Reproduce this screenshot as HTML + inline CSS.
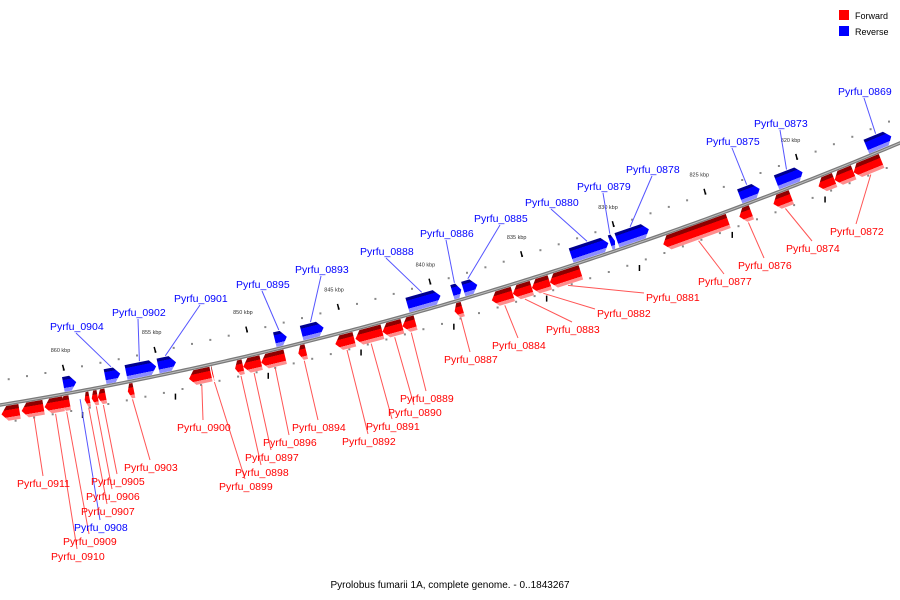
<!DOCTYPE html>
<html><head><meta charset="utf-8">
<style>
html,body{margin:0;padding:0;background:#fff;}
svg{display:block;font-family:"Liberation Sans","DejaVu Sans",sans-serif;}
</style></head>
<body>
<svg id="chart" width="900" height="600" viewBox="0 0 900 600">
  <defs>
    <linearGradient id="gRed" x1="0" y1="0" x2="0" y2="1">
      <stop offset="0" stop-color="#8e0000"/><stop offset="0.27" stop-color="#8e0000"/>
      <stop offset="0.28" stop-color="#ff0000"/><stop offset="0.76" stop-color="#ff0000"/>
      <stop offset="0.77" stop-color="#ff8c8c"/><stop offset="1" stop-color="#ff8c8c"/>
    </linearGradient>
    <linearGradient id="gBlue" x1="0" y1="0" x2="0" y2="1">
      <stop offset="0" stop-color="#00008e"/><stop offset="0.2" stop-color="#00008e"/>
      <stop offset="0.21" stop-color="#0000ff"/><stop offset="0.74" stop-color="#0000ff"/>
      <stop offset="0.75" stop-color="#8c8cff"/><stop offset="1" stop-color="#8c8cff"/>
    </linearGradient>
  </defs>
  <g id="ticks"></g>
  <path id="axis" fill="none" stroke="#7a7a7a" stroke-width="3.5"/>
  <path id="axis2" fill="none" stroke="#bdbdbd" stroke-width="1"/>
  <g id="leaders"></g>
  <g id="genes"></g>
  <g id="labels"></g>
  <g>
    <rect x="839" y="10" width="10" height="10" fill="#ff0000"/>
    <text x="855" y="19" font-size="9" fill="#000">Forward</text>
    <rect x="839" y="26" width="10" height="10" fill="#0000ff"/>
    <text x="855" y="35" font-size="9" fill="#000">Reverse</text>
  </g>
  <text x="450" y="588" font-size="10" text-anchor="middle" fill="#000">Pyrolobus fumarii 1A, complete genome. - 0..1843267</text>
</svg>
<script>
// ---- data (kbp) ----
const geneNames = ["","Pyrfu_0904","Pyrfu_0902","Pyrfu_0901","Pyrfu_0895","Pyrfu_0893","Pyrfu_0888","Pyrfu_0886","Pyrfu_0885","Pyrfu_0880","Pyrfu_0879","Pyrfu_0878","Pyrfu_0875","Pyrfu_0873","Pyrfu_0869",
 "","Pyrfu_0911","Pyrfu_0910","Pyrfu_0909","Pyrfu_0908","Pyrfu_0907","Pyrfu_0906","Pyrfu_0905","Pyrfu_0903","Pyrfu_0900","Pyrfu_0899","Pyrfu_0898","Pyrfu_0897","Pyrfu_0896","Pyrfu_0894","Pyrfu_0892","Pyrfu_0891","Pyrfu_0890","Pyrfu_0889","Pyrfu_0887","Pyrfu_0884","Pyrfu_0883","Pyrfu_0882","Pyrfu_0881","Pyrfu_0877","Pyrfu_0876","Pyrfu_0874","","","Pyrfu_0872"];
const geneStart = [860.16,857.89,856.75,855.01,848.67,847.21,841.46,839.02,838.43,832.57,830.45,830.08,823.41,821.41,816.53,
 863.69,862.60,861.36,860.49,859.45,859.19,858.81,858.48,856.86,853.55,852.30,851.06,850.62,849.65,847.64,845.64,844.55,843.09,842.01,839.19,837.18,836.04,835.01,834.04,827.91,823.79,821.95,819.51,818.64,817.61];
const geneEnd = [859.46,857.07,855.12,854.04,848.02,846.02,839.67,838.54,837.67,830.55,830.19,828.35,822.33,820.0,815.18,
 862.71,861.41,860.33,860.0,859.40,858.92,858.48,858.05,856.53,852.36,852.25,850.62,849.65,848.35,847.21,844.61,843.09,842.01,841.30,838.75,836.04,835.01,834.04,832.36,824.39,823.14,820.98,818.64,817.61,816.10];
const geneStrand = [-1,-1,-1,-1,-1,-1,-1,-1,-1,-1,-1,-1,-1,-1,-1,
 1,1,1,1,0,1,1,1,1,1,1,1,1,1,1,1,1,1,1,1,1,1,1,1,1,1,1,1,1,1];
const tickLabels = [860,855,850,845,840,835,830,825,820];
// ---- layout: label text positions (left x, baseline y) ----
const labelPos = [null,[50,330],[112,316],[174,302],[236,288],[295,273],[360,255],[420,237],[474,222],[525,206],[577,190],[626,173],[706,145],[754,127],[838,95],
 null,[17,487],[51,560],[63,545],[74,531],[81,515],[86,500],[91,485],[124,471],[177,431],[219,490],[235,476],[245,461],[263,446],[292,431],[342,445],[366,430],[388,416],[400,402],[444,363],[492,349],[546,333],[597,317],[646,301],[698,285],[738,269],[786,252],null,null,[830,235]];

const NS="http://www.w3.org/2000/svg";
function xOf(kbp){return 68+(860-kbp)*18.45;}
function yOf(x){return 405-0.1628*x-0.0001426*x*x;}
function slope(x){return -0.1628-2*0.0001426*x;}
function pt(x,off){const m=slope(x),n=Math.sqrt(1+m*m);return [x+(-m/n)*off, yOf(x)+(1/n)*off];}

let d="";for(let x=-5;x<=905;x+=5){d+=(x===-5?"M":"L")+x+","+yOf(x).toFixed(2);}
document.getElementById('axis').setAttribute('d',d);
document.getElementById('axis2').setAttribute('d',d);

const tg=document.getElementById('ticks');
for(let k=864;k>=815;k--){
  const x=xOf(k);
  [-24,18].forEach(o=>{const p=pt(x,o);const r=document.createElementNS(NS,'rect');
    
    
    r.setAttribute('x',(p[0]-1).toFixed(1));r.setAttribute('y',(p[1]-1).toFixed(1));r.setAttribute('width',2);r.setAttribute('height',2);r.setAttribute('fill','#888');tg.appendChild(r);});
}
tickLabels.forEach(k=>{
  const x=xOf(k);const p=pt(x,-26);
  const l=document.createElementNS(NS,'rect');
  
  
  l.setAttribute('x',(p[0]-0.7).toFixed(1));l.setAttribute('y',(p[1]-3).toFixed(1));l.setAttribute('width',1.5);l.setAttribute('height',6);l.setAttribute('fill','#000');
  l.setAttribute('transform','rotate(-15 '+p[0].toFixed(1)+' '+p[1].toFixed(1)+')');tg.appendChild(l);
  const p2=pt(xOf(k-0.55),24);
  const l2=document.createElementNS(NS,'rect');
  
  
  l2.setAttribute('x',(p2[0]-0.7).toFixed(1));l2.setAttribute('y',(p2[1]-3).toFixed(1));l2.setAttribute('width',1.5);l2.setAttribute('height',6);l2.setAttribute('fill','#000');tg.appendChild(l2);
  const lp=pt(x,-42);const t=document.createElementNS(NS,'text');
  
  
  t.setAttribute('x',lp[0].toFixed(1));t.setAttribute('y',lp[1].toFixed(1));t.setAttribute('font-size','5.5');t.setAttribute('text-anchor','middle');t.setAttribute('fill','#333');
  t.textContent=k+' kbp';tg.appendChild(t);
});

const gg=document.getElementById('genes'),lg=document.getElementById('leaders'),lb=document.getElementById('labels');
geneNames.forEach((name,i)=>{
  const x0=xOf(geneStart[i]),x1=xOf(geneEnd[i]),s=geneStrand[i];
  const xm=(x0+x1)/2;
  if(s!==0){
    const p0=[x0,yOf(x0)],p1=[x1,yOf(x1)];
    const L=Math.hypot(p1[0]-p0[0],p1[1]-p0[1]);const ang=Math.atan2(p1[1]-p0[1],p1[0]-p0[0])*180/Math.PI;
    const a=Math.min(6,L*0.45);
    const g=document.createElementNS(NS,'g');
    g.setAttribute('transform','translate('+p0[0].toFixed(2)+','+p0[1].toFixed(2)+') rotate('+ang.toFixed(2)+')');
    const poly=document.createElementNS(NS,'polygon');
    
    
    let pts;
    if(s>0){pts=[[a,2],[L,2],[L,17],[a,17],[0,9.5]];poly.setAttribute('fill','url(#gRed)');}
    else{pts=[[0,-17],[L-a,-17],[L,-9.5],[L-a,-2],[0,-2]];poly.setAttribute('fill','url(#gBlue)');}
    poly.setAttribute('points',pts.map(q=>q[0].toFixed(2)+','+q[1].toFixed(2)).join(' '));
    g.appendChild(poly);gg.appendChild(g);
  }
  if(name&&labelPos[i]){
    const lpx=labelPos[i][0],lpy=labelPos[i][1];
    const below=lpy>yOf(lpx+26);
    let sx=lpx+26,sy=below?lpy-11:lpy+3;
    if(below && lpx-xm>50){sx=lpx-2;sy=lpy-8;}
    const end=pt(xm,s>0?18:(s<0?-18:8));
    const ln=document.createElementNS(NS,'line');
    
    
    ln.setAttribute('x1',sx);ln.setAttribute('y1',sy);ln.setAttribute('x2',end[0].toFixed(1));ln.setAttribute('y2',end[1].toFixed(1));
    ln.setAttribute('stroke',s<=0?'#5555ff':'#ff5555');ln.setAttribute('stroke-width','1');lg.appendChild(ln);
    const t=document.createElementNS(NS,'text');
    
    
    t.setAttribute('x',lpx);t.setAttribute('y',lpy);t.setAttribute('font-size','10.5');t.setAttribute('fill',s<=0?'#0000ff':'#ff0000');
    t.textContent=name;lb.appendChild(t);
  }
});
</script>
</body></html>
